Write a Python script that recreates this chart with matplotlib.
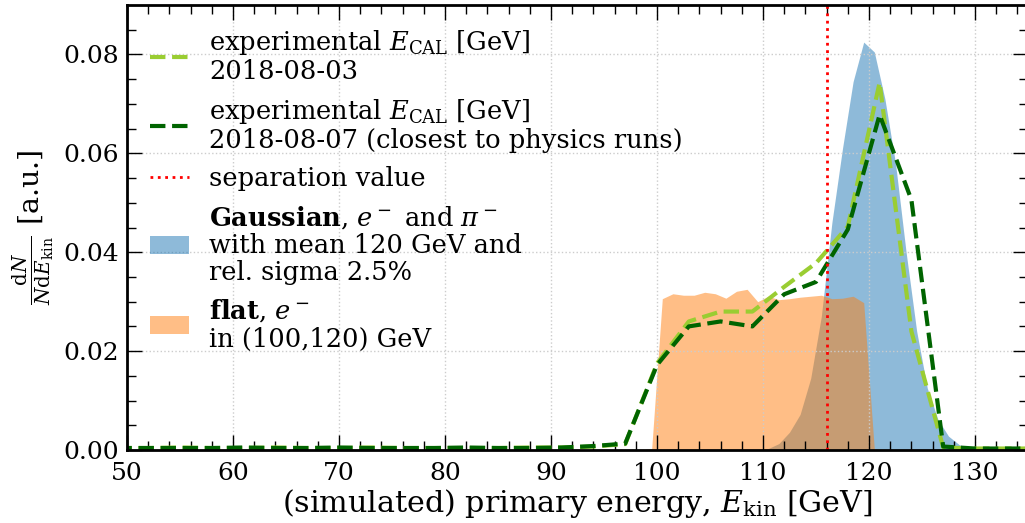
import numpy as np
import matplotlib
matplotlib.use("Agg")
import matplotlib.pyplot as plt

# simulated energy spectra (bin centres, GeV) and normalised counts
gauss_E = [108.5, 109.5, 110.5, 111.5, 112.5, 113.5, 114.5, 115.5, 116.5, 117.5,
           118.5, 119.5, 120.5, 121.5, 122.5, 123.5, 124.5, 125.5, 126.5, 127.5,
           128.5, 129.5, 130.5]
gauss_y = [0.0, 0.0001, 0.0003, 0.0013, 0.0036, 0.0072, 0.0145, 0.027, 0.046, 0.061,
           0.0745, 0.0825, 0.0805, 0.071, 0.058, 0.040, 0.024, 0.0125, 0.0062, 0.0028,
           0.0011, 0.0002, 0.0]

flat_E = [98.5, 99.5, 100.5, 101.5, 102.5, 103.5, 104.5, 105.5, 106.5, 107.5, 108.5,
          109.5, 110.5, 111.5, 112.5, 113.5, 114.5, 115.5, 116.5, 117.5, 118.5,
          119.5, 120.5, 121.5]
flat_y = [0.0, 0.0003, 0.0306, 0.0316, 0.0313, 0.0313, 0.0319, 0.0316, 0.0307, 0.0321,
          0.0325, 0.0300, 0.0311, 0.0304, 0.0306, 0.0309, 0.0311, 0.0313, 0.0306,
          0.0307, 0.0311, 0.0298, 0.0002, 0.0]

# experimental E_CAL distributions
exp_E = [49, 52, 55, 58, 61, 64, 67, 70, 73, 76, 79, 82, 85, 88, 91, 94, 97, 100,
         103, 106, 109, 112, 115, 118, 121, 124, 127, 130, 133, 136]
exp_0803 = [0.0004, 0.0004, 0.0005, 0.0004, 0.0004, 0.0005, 0.0004, 0.0004, 0.0005,
            0.0004, 0.0004, 0.0004, 0.0004, 0.0005, 0.0005, 0.0007, 0.0012, 0.0175,
            0.026, 0.028, 0.028, 0.033, 0.0378, 0.0452, 0.0743, 0.024, 0.0005,
            0.0003, 0.0003, 0.0003]
exp_0807 = [0.0004, 0.0004, 0.0004, 0.0004, 0.0005, 0.0004, 0.0004, 0.0005, 0.0004,
            0.0004, 0.0004, 0.0005, 0.0004, 0.0004, 0.0005, 0.0008, 0.0013, 0.0172,
            0.025, 0.026, 0.025, 0.0315, 0.034, 0.0446, 0.0678, 0.0506, 0.0007,
            0.0003, 0.0003, 0.0003]

separation = 116


def main():
    plt.rcParams['font.family'] = 'DejaVu Serif'
    plt.rcParams['mathtext.fontset'] = 'dejavuserif'
    plt.rcParams['font.size'] = 18

    fig = plt.figure(figsize=(10.25, 5.23), dpi=100)
    ax = fig.add_axes([127 / 1025, 1 - 450 / 523, 901 / 1025, 445 / 523])

    ax.plot(exp_E, exp_0803, ls='--', lw=3, color='yellowgreen',
            label='experimental $E_\\mathrm{CAL}$ [GeV]\n2018-08-03')
    ax.plot(exp_E, exp_0807, ls='--', lw=3, color='darkgreen',
            label='experimental $E_\\mathrm{CAL}$ [GeV]\n2018-08-07 (closest to physics runs)')
    ax.axvline(separation, ls=':', lw=2, color='red', label='separation value')
    ax.fill_between(gauss_E, gauss_y, color='C0', alpha=0.5, lw=0,
                    label='$\\mathbf{Gaussian}$, $e^-$ and $\\pi^-$\nwith mean 120 GeV and\nrel. sigma 2.5%')
    ax.fill_between(flat_E, flat_y, color='C1', alpha=0.5, lw=0,
                    label='$\\mathbf{flat}$, $e^-$\nin (100,120) GeV')

    ax.set_xlim(50, 135)
    ax.set_ylim(0, 0.09)
    ax.set_xticks(np.arange(50, 131, 10))
    ax.set_xticks(np.arange(50, 135, 2), minor=True)
    ax.set_yticks([0, 0.02, 0.04, 0.06, 0.08])
    ax.set_yticks(np.arange(0, 0.09, 0.005), minor=True)
    ax.tick_params(which='both', direction='in', top=True, right=True, width=1)
    ax.tick_params(which='major', length=11, pad=6)
    ax.tick_params(axis='x', which='major', pad=9)
    ax.tick_params(which='minor', length=6.5)
    for s in ax.spines.values():
        s.set_linewidth(2)
    ax.grid(True, which='major', ls=':', color='#cccccc', lw=1)

    ax.set_xlabel('(simulated) primary energy, $E_\\mathrm{kin}$ [GeV]', fontsize=21.7, labelpad=1)
    ax.set_ylabel('$\\frac{\\mathrm{d}N}{N\\mathrm{d}E_\\mathrm{kin}}$ [a.u.]', fontsize=20.5)

    leg = ax.legend(loc='upper left', frameon=False, handlelength=1.5, fontsize=18.5)
    for t in leg.get_texts():
        t.set_linespacing(1.1)

    fig.savefig('out.png', dpi=100)


if __name__ == "__main__":
    main()
